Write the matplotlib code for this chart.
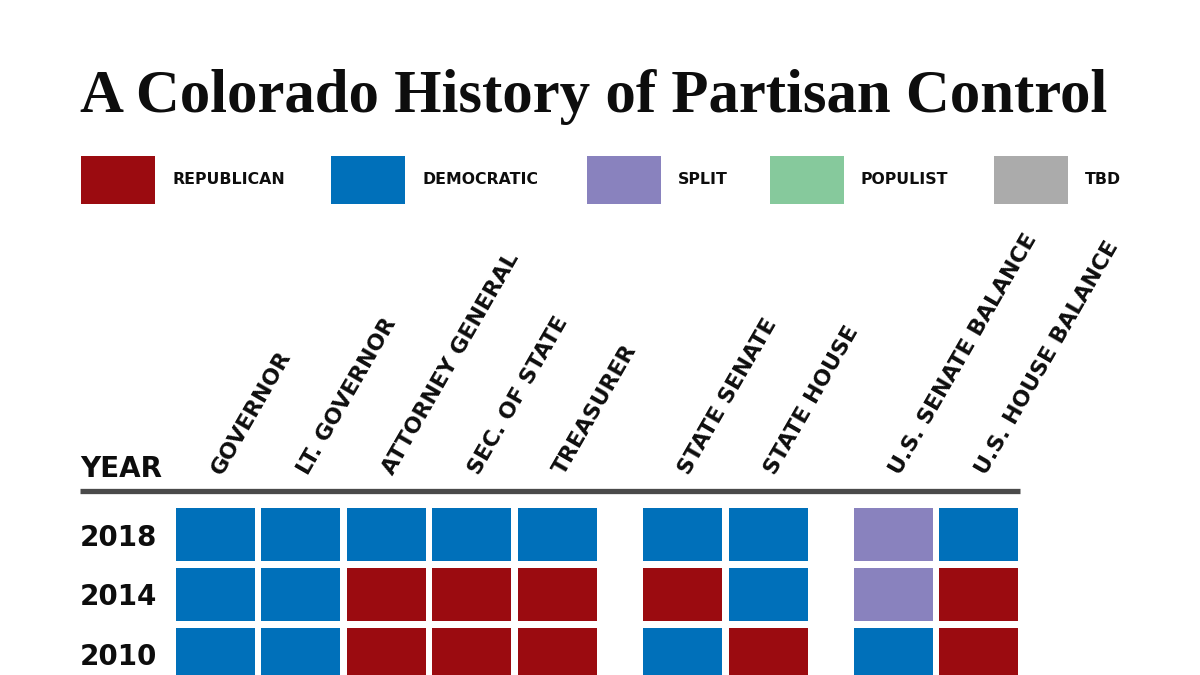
import matplotlib
matplotlib.use("Agg")
import matplotlib.pyplot as plt
from matplotlib.patches import Rectangle

# ---- data ----
offices = ["GOVERNOR", "LT. GOVERNOR", "ATTORNEY GENERAL", "SEC. OF STATE",
           "TREASURER", "STATE SENATE", "STATE HOUSE",
           "U.S. SENATE BALANCE", "U.S. HOUSE BALANCE"]
office_group = [0, 0, 0, 0, 0, 1, 1, 2, 2]
years = ["2018", "2014", "2010"]
control_2018 = ["D", "D", "D", "D", "D", "D", "D", "S", "D"]
control_2014 = ["D", "D", "R", "R", "R", "R", "D", "S", "R"]
control_2010 = ["D", "D", "R", "R", "R", "D", "R", "D", "R"]
control = [control_2018, control_2014, control_2010]
legend_keys = ["R", "D", "S", "P", "T"]
legend_labels = ["REPUBLICAN", "DEMOCRATIC", "SPLIT", "POPULIST", "TBD"]
colors = {"R": "#9B0B10", "D": "#0070BA", "S": "#8982BE",
          "P": "#86C99C", "T": "#ABABAB"}
title = "A Colorado History of Partisan Control"

SANS = ["DejaVu Sans"]
INK = "#0d0d0d"

fig = plt.figure(figsize=(12, 6.75), dpi=100)
ax = fig.add_axes([0, 0, 1, 1])
ax.set_xlim(-2.523, 11.528)
ax.set_ylim(2.353, -8.99)
ax.axis("off")

group_gap = 0.47
xpos = [i + office_group[i] * group_gap for i in range(len(offices))]

cw, chh = 0.925, 0.89
for r, row in enumerate(control):
    for c, key in enumerate(row):
        ax.add_patch(Rectangle((xpos[c] - cw / 2, r - chh / 2), cw, chh,
                               facecolor=colors[key], edgecolor="none"))
    ax.text(-1.587, r, years[r], ha="left", va="center_baseline",
            fontsize=20, fontweight="bold", family=SANS, color=INK)

# headers
for c, name in enumerate(offices):
    ax.text(xpos[c] + 0.08, -0.99, name, rotation=60, rotation_mode="anchor",
            ha="left", va="baseline", fontsize=15.8, fontweight="bold",
            family=SANS, color=INK)

ax.text(-1.587, -0.97, "YEAR", ha="left", va="baseline", fontsize=20,
        fontweight="bold", family=SANS, color=INK)

# divider line
ax.plot([-1.587, 9.42], [-0.74, -0.74], color="#4a4a4a", lw=3.8,
        solid_capstyle="butt")

# legend
box_x = [81, 331, 587, 770, 994]
for bx, key, lab in zip(box_x, legend_keys, legend_labels):
    fig.patches.append(Rectangle((bx / 1200, 1 - 204 / 675), 74 / 1200,
                                 48 / 675, transform=fig.transFigure,
                                 facecolor=colors[key], edgecolor="none"))
    fig.text((bx + 91) / 1200, 1 - 180 / 675, lab, ha="left", va="center",
             fontsize=11.3, fontweight="bold", family=SANS, color=INK)

# title, sized to span the reference width
t = fig.text(80 / 1200, 1 - 112 / 675, title, ha="left", va="baseline",
             fontsize=40, fontweight="bold",
             family=["Liberation Serif", "DejaVu Serif"], color=INK)
fig.canvas.draw()
w = t.get_window_extent().width
t.set_fontsize(40 * 1025 / w)

fig.savefig("out.png", dpi=100, facecolor="white")
